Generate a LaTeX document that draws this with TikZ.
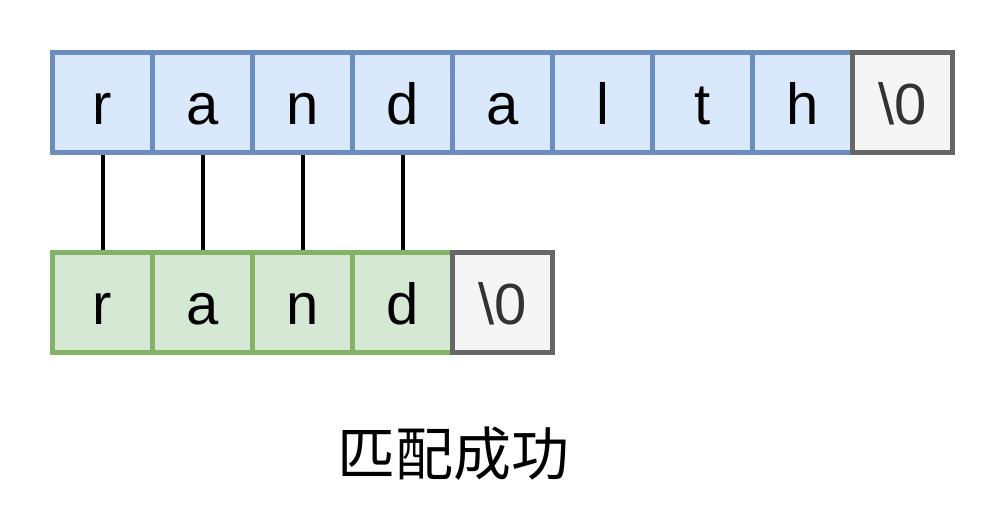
\documentclass[tikz,border=0pt]{standalone}
\usepackage{fontspec}
\setmainfont{Liberation Sans}
\newfontfamily\cjk{Noto Sans CJK SC}
\definecolor{bluefill}{HTML}{DAE8FC}
\definecolor{bluedraw}{HTML}{6C8EBF}
\definecolor{greenfill}{HTML}{D5E8D4}
\definecolor{greendraw}{HTML}{82B366}
\definecolor{grayfill}{HTML}{F5F5F5}
\definecolor{graydraw}{HTML}{666666}
\definecolor{graytext}{HTML}{333333}
\tikzset{
  cell/.style={minimum width=100pt, minimum height=100pt, inner sep=0pt, outer sep=0pt,
    line width=4.5pt, font=\fontsize{58}{60}\selectfont, text height=45pt, text depth=0pt},
  bluecell/.style={cell, draw=bluedraw, fill=bluefill},
  greencell/.style={cell, draw=greendraw, fill=greenfill},
  endcell/.style={cell, draw=graydraw, fill=grayfill, text=graytext},
  link/.style={line width=4pt, draw=black}
}
\begin{document}
\begin{tikzpicture}[x=1pt, y=-1pt]
\useasboundingbox (0,0) rectangle (1005,505);
% top row
\node[bluecell] (t1) at (102.5,102.5) {r};
\node[bluecell] (t2) at (202.5,102.5) {a};
\node[bluecell] (t3) at (302.5,102.5) {n};
\node[bluecell] (t4) at (402.5,102.5) {d};
\node[bluecell] (t5) at (502.5,102.5) {a};
\node[bluecell] (t6) at (602.5,102.5) {l};
\node[bluecell] (t7) at (702.5,102.5) {t};
\node[bluecell] (t8) at (802.5,102.5) {h};
\node[endcell] (t9) at (902.5,102.5) {\textbackslash0};
% bottom row
\node[greencell] (b1) at (102.5,302.5) {r};
\node[greencell] (b2) at (202.5,302.5) {a};
\node[greencell] (b3) at (302.5,302.5) {n};
\node[greencell] (b4) at (402.5,302.5) {d};
\node[endcell] (b5) at (502.5,302.5) {\textbackslash0};
% links
\draw[link] (t1.south) ++(0,2.25) coordinate (l1s) (b1.north) ++(0,-2.25) coordinate (l1e);
\draw[link] (l1s) -- (l1e);
\draw[link] (t2.south) ++(0,2.25) coordinate (l2s) (b2.north) ++(0,-2.25) coordinate (l2e);
\draw[link] (l2s) -- (l2e);
\draw[link] (t3.south) ++(0,2.25) coordinate (l3s) (b3.north) ++(0,-2.25) coordinate (l3e);
\draw[link] (l3s) -- (l3e);
\draw[link] (t4.south) ++(0,2.25) coordinate (l4s) (b4.north) ++(0,-2.25) coordinate (l4e);
\draw[link] (l4s) -- (l4e);
% caption
\node[font=\cjk\fontsize{58}{60}\selectfont, inner sep=0pt] (cap) at (453,454) {匹配成功};
\end{tikzpicture}
\end{document}
